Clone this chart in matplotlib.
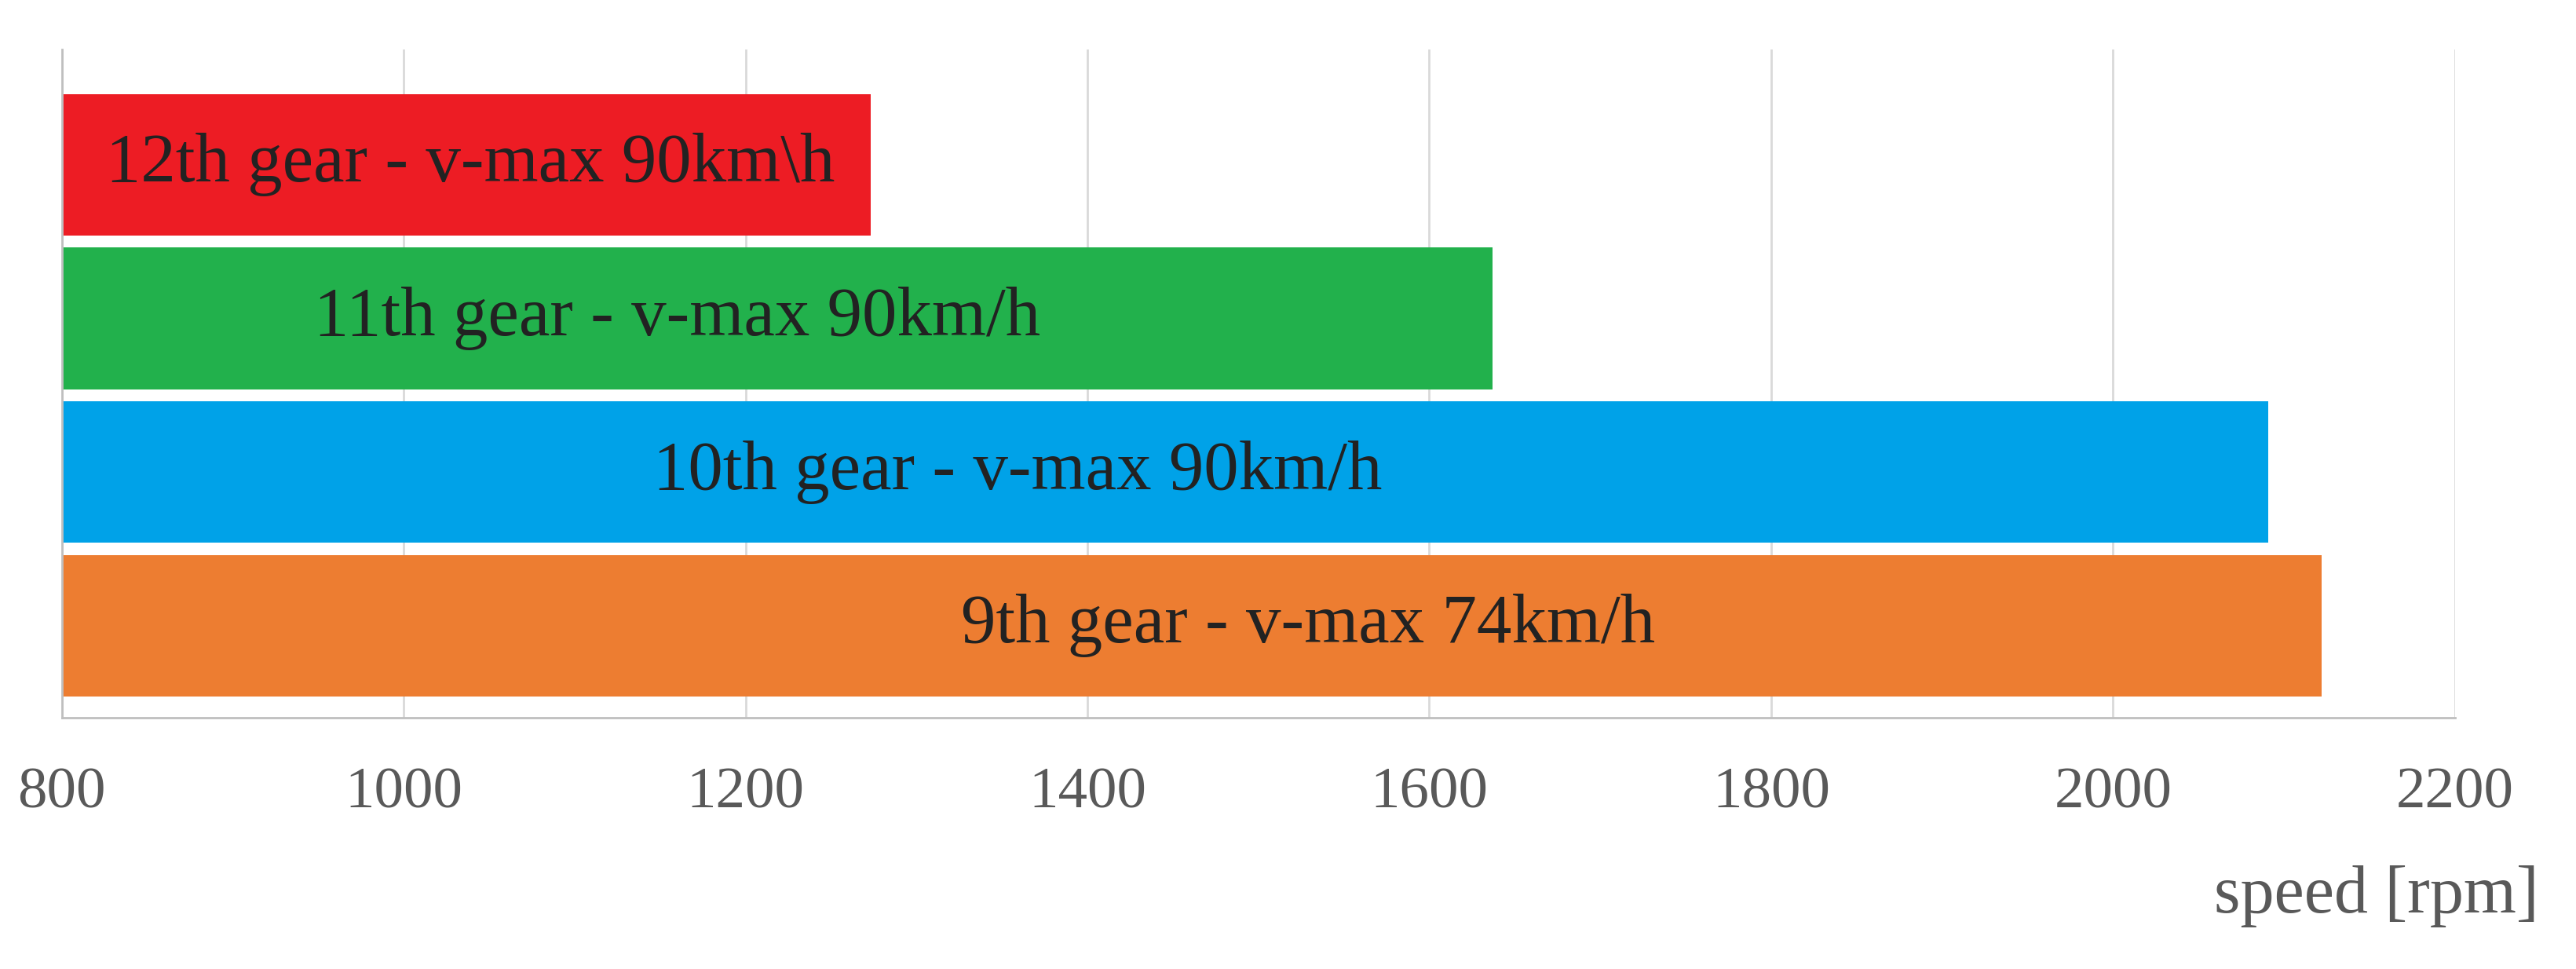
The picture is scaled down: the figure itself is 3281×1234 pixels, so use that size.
import matplotlib
matplotlib.use("Agg")
import matplotlib.pyplot as plt

# gear data (bottom to top)
gears = ["9th gear - v-max 74km/h", "10th gear - v-max 90km/h",
         "11th gear - v-max 90km/h", "12th gear - v-max 90km\\h"]
max_rpm = [2122, 2091, 1637, 1273]
label_x = [1529, 1359, 1160, 1039]
colors = ["#ED7D31", "#00A2E8", "#22B14C", "#ED1C24"]
ticks = [800, 1000, 1200, 1400, 1600, 1800, 2000, 2200]

plt.rcParams["font.family"] = ["Liberation Serif", "DejaVu Serif"]

fig = plt.figure(figsize=(32.81, 12.34), dpi=100)
ax = fig.add_axes([0.024, 0.259, 0.929, 0.69])

ypos = range(len(gears))
ax.barh(ypos, [v - 800 for v in max_rpm], left=800, height=0.92,
        color=colors, zorder=2)
for y, name, x in zip(ypos, gears, label_x):
    ax.text(x, y, name, ha="center", va="center", fontsize=64,
            color="#222222", zorder=3)

ax.set_xlim(800, 2200)
ax.set_ylim(-0.6, 3.75)
ax.set_xticks(ticks)
ax.set_yticks([])
ax.grid(axis="x", color="#d9d9d9", linewidth=2, zorder=0)
for s in ["top", "right"]:
    ax.spines[s].set_visible(False)
for s in ["left", "bottom"]:
    ax.spines[s].set_color("#bfbfbf")
    ax.spines[s].set_linewidth(2)
ax.tick_params(axis="x", labelsize=54, labelcolor="#595959", length=0,
               pad=45)
ax.set_xlabel("speed [rpm]", fontsize=62, color="#595959")
ax.xaxis.set_label_coords(1.035, -0.22, transform=ax.transAxes)
ax.xaxis.label.set_ha("right")

fig.savefig("out.png", dpi=100)
